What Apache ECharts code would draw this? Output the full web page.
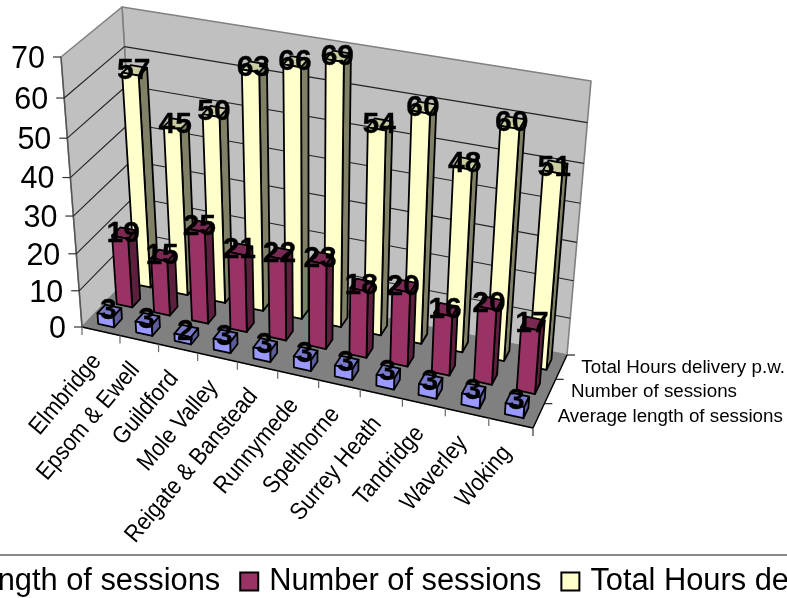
<!DOCTYPE html>
<html><head><meta charset="utf-8">
<style>html,body{margin:0;padding:0;background:#fff;overflow:hidden}#c{width:787px;height:598px}</style>
<script src="https://cdn.jsdelivr.net/npm/echarts@6/dist/echarts.min.js"></script>
</head><body><div id="c"></div>
<script>
const categories = ['Elmbridge','Epsom & Ewell','Guildford','Mole Valley','Reigate & Banstead','Runnymede','Spelthorne','Surrey Heath','Tandridge','Waverley','Woking'];
const valueTicks = [0,10,20,30,40,50,60,70];
const avgLength = [3,3,2,3,3,3,3,3,3,3,3];
const numSessions = [19,15,25,21,22,23,18,20,16,20,17];
const totalHours = [57,45,50,63,66,69,54,60,48,60,51];
const seriesNames = ['Average length of sessions','Number of sessions','Total Hours delivery p.w.'];

const FONT = '"Liberation Sans", Arial, sans-serif';
// perspective box corners: floor and top planes
const C = {
  f0:[82,327], f1:[533,428], b1:[567,355], b0:[138,268],
  tf0:[61,57], tf1:[553,150], tb1:[591,81], tb0:[122,7]
};
const warp = (a,k)=> k*a/(1-(1-k)*a);
const mix = (p,q,a)=>[p[0]+(q[0]-p[0])*a, p[1]+(q[1]-p[1])*a];
function proj(s,d,t){
  const u=warp(s,0.92), h=warp(t,0.93);
  const bot=mix(mix(C.f0,C.f1,u),mix(C.b0,C.b1,u),d);
  const top=mix(mix(C.tf0,C.tf1,u),mix(C.tb0,C.tb1,u),d);
  return mix(bot,top,h);
}
// library scales -> unit box coordinates
function unit(api,cat,val){
  const p=api.coord([cat,val]);
  return {s:p[0]/api.getWidth(), t:1-p[1]/api.getHeight()};
}
const BAR_U=0.21/11, BAR_D=0.072;
const poly=(points,fill,stroke,lw)=>({type:'polygon',shape:{points},style:{fill,stroke:stroke||'#000',lineWidth:lw==null?1.8:lw,lineJoin:'round'}});
const line=(a,b,stroke,lw)=>({type:'line',shape:{x1:a[0],y1:a[1],x2:b[0],y2:b[1]},style:{stroke,lineWidth:lw,fill:null}});

function barSeries(name,values,slot,cols,z){
  return {
    name,type:'custom',coordinateSystem:'cartesian2d',z,
    itemStyle:{color:cols[0],borderColor:'#000',borderWidth:1.8},
    data:values.map((v,i)=>[categories[i],v]),
    renderItem(params,api){
      const {s}=unit(api,api.value(0),0), {t}=unit(api,api.value(0),api.value(1));
      const dc=(slot+0.5)/3, s0=s-BAR_U,s1=s+BAR_U,d0=dc-BAR_D,d1=dc+BAR_D;
      const P=(a,b,c)=>proj(a,b,c);
      return {type:'group',children:[
        poly([P(s0,d0,t),P(s1,d0,t),P(s1,d1,t),P(s0,d1,t)],cols[2]),
        poly([P(s1,d0,0),P(s1,d1,0),P(s1,d1,t),P(s1,d0,t)],cols[1]),
        poly([P(s0,d0,0),P(s1,d0,0),P(s1,d0,t),P(s0,d0,t)],cols[0])
      ]};
    }
  };
}
function labelSeries(values,slot){
  return {
    type:'custom',coordinateSystem:'cartesian2d',z:20,silent:true,
    data:values.map((v,i)=>[categories[i],v]),
    renderItem(params,api){
      const {s}=unit(api,api.value(0),0), {t}=unit(api,api.value(0),api.value(1));
      const p=proj(s,(slot+0.5)/3,t);
      return {type:'text',style:{text:String(api.value(1)),x:p[0]-1,y:p[1]+0.5,align:'center',verticalAlign:'middle',
        fill:'#000',font:'bold 30px '+FONT,stroke:'#000',lineWidth:0.3}};
    }
  };
}
const wallSeries={
  type:'custom',coordinateSystem:'cartesian2d',z:0,silent:true,
  data:[[categories[0],0]],
  renderItem(){
    return {type:'group',children:[
      poly([C.b0,C.b1,C.tb1,C.tb0],'#C0C0C0','#808080',1.6),
      poly([C.f0,C.b0,C.tb0,C.tf0],'#C0C0C0','#808080',1.6),
      poly([C.f0,C.f1,C.b1,C.b0],'#808080','#808080',1),
      line(C.f0,C.f1,'#000',1.4),line(C.f1,C.b1,'#000',1.4),line(C.f0,C.tf0,'#555',1.4)
    ]};
  }
};
const gridSeries={
  type:'custom',coordinateSystem:'cartesian2d',z:1,silent:true,
  data:valueTicks.map(v=>[categories[0],v]),
  renderItem(params,api){
    const {t}=unit(api,0,api.value(1));
    const a=proj(0,0,t),b=proj(0,1,t),c=proj(1,1,t);
    const kids=[line([a[0]-8,a[1]],a,'#333',1.2),
      {type:'text',style:{text:String(api.value(1)),x:a[0]-16,y:a[1]+2.5,align:'right',verticalAlign:'middle',fill:'#000',font:'30.5px '+FONT}}];
    if(api.value(1)>0&&api.value(1)<70){kids.push(line(a,b,'#222',1.1),line(b,c,'#222',1.1));}
    return {type:'group',children:kids};
  }
};
const catSeries={
  type:'custom',coordinateSystem:'cartesian2d',z:1,silent:true,
  data:categories.map(c=>[c,0]),
  renderItem(params,api){
    const {s}=unit(api,api.value(0),0);
    const half=0.5/11, a=proj(s-half,0,0), m=proj(s,0,0);
    const kids=[line(a,[a[0],a[1]+8],'#666',1.2),
      {type:'text',x:m[0]-4,y:m[1]+26,rotation:50*Math.PI/180,scaleY:1.12,
       style:{text:categories[params.dataIndex],x:0,y:0,align:'right',verticalAlign:'middle',fill:'#000',font:'21.6px '+FONT}}];
    if(params.dataIndex===categories.length-1){const e=proj(1,0,0);kids.push(line(e,[e[0],e[1]+8],'#333',1.2));}
    return {type:'group',children:kids};
  }
};
const depthSeries={
  type:'custom',coordinateSystem:'cartesian2d',z:1,silent:true,
  data:seriesNames.map(n=>[categories[0],0,n]),
  renderItem(params,api){
    const i=params.dataIndex, b=proj(1,(i+1)/3,0), m=proj(1,(i+0.5)/3,0);
    const xoff=[19,21,20][i];
    return {type:'group',children:[
      line(b,[b[0]+8,b[1]],'#222',1.2),
      {type:'text',style:{text:seriesNames[i],x:m[0]+xoff,y:m[1]+0.5,align:'left',verticalAlign:'middle',fill:'#000',font:'18.8px '+FONT}}
    ]};
  }
};
const chart=echarts.init(document.getElementById('c'),null,{renderer:'canvas'});
chart.setOption({
  animation:false,backgroundColor:'#fff',
  grid:{left:0,right:0,top:0,bottom:0},
  xAxis:{type:'category',data:categories,show:false},
  yAxis:{type:'value',min:0,max:70,interval:10,show:false},
  legend:{
    data:seriesNames,left:-184,top:555,icon:'rect',orient:'horizontal',
    itemWidth:18,itemHeight:18,itemGap:19,padding:[11,5,60,5],
    width:1300,borderColor:'#666',borderWidth:1.5,
    textStyle:{fontFamily:'Liberation Sans',fontSize:30.8,color:'#000',padding:[0,0,0,6]}
  },
  series:[
    wallSeries,gridSeries,catSeries,depthSeries,
    barSeries(seriesNames[2],totalHours,2,['#FFFFCC','#808066','#CCCCA3'],3),
    barSeries(seriesNames[1],numSessions,1,['#993366','#5C1F3D','#7A2952'],4),
    barSeries(seriesNames[0],avgLength,0,['#9999FF','#5C5C99','#7A7ACC'],5),
    labelSeries(totalHours,2),labelSeries(numSessions,1),labelSeries(avgLength,0)
  ]
});
</script></body></html>
